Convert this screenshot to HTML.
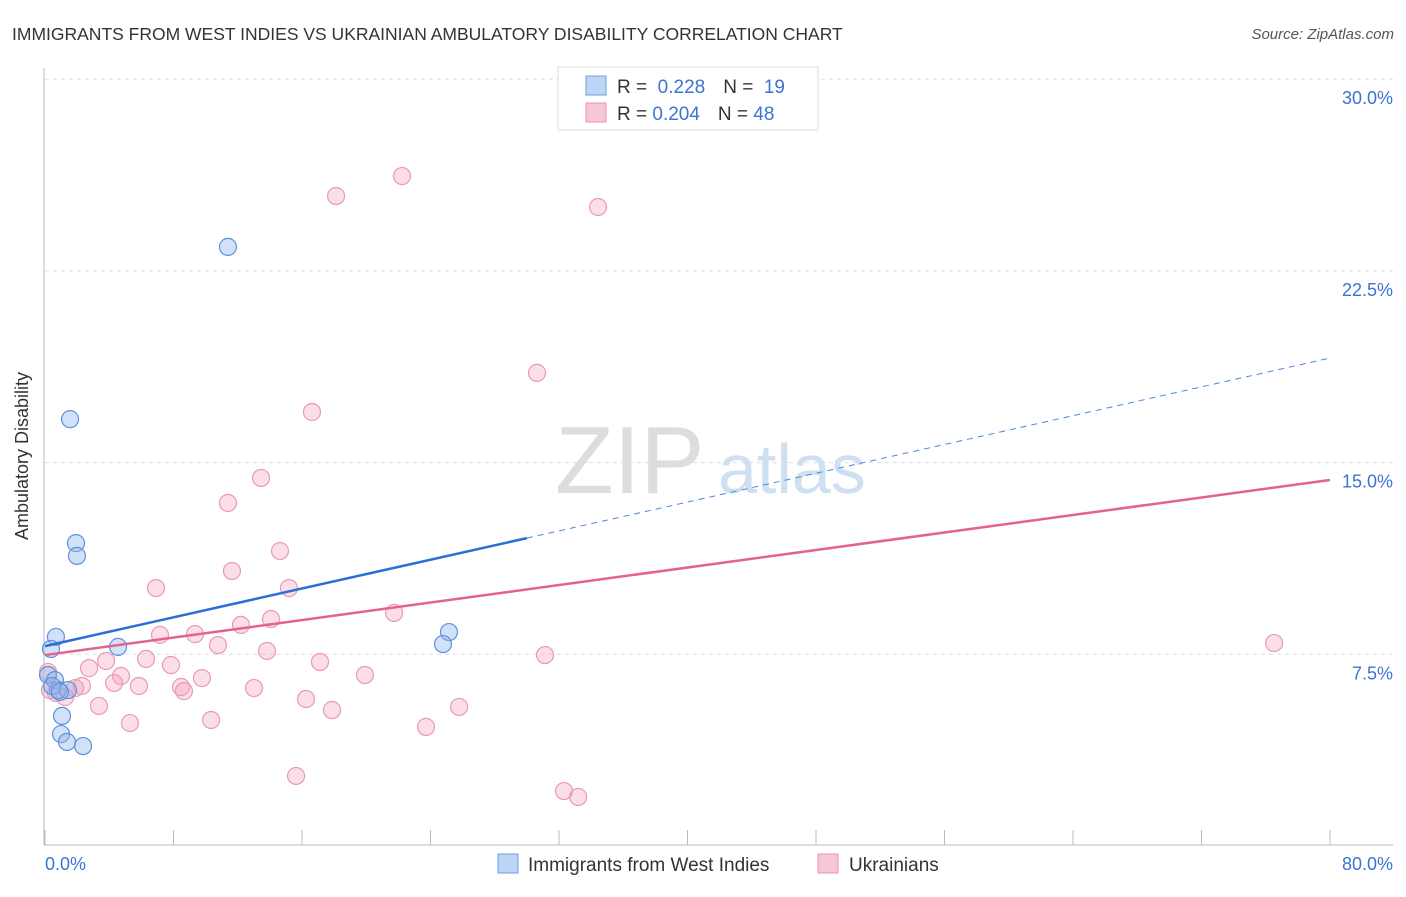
<!DOCTYPE html>
<html><head><meta charset="utf-8"><style>
body{margin:0;background:#fff;font-family:"Liberation Sans",sans-serif;}
svg text{font-family:"Liberation Sans",sans-serif;}
</style></head><body>
<svg id="c" width="1406" height="892" xmlns="http://www.w3.org/2000/svg">
<text x="12" y="40" font-size="17.5" fill="#333">IMMIGRANTS FROM WEST INDIES VS UKRAINIAN AMBULATORY DISABILITY CORRELATION CHART</text>
<text x="1394" y="39" font-size="15" fill="#555" font-style="italic" text-anchor="end">Source: ZipAtlas.com</text>
<text x="555" y="493" font-size="96" fill="#ddd" font-family="Liberation Serif">ZIP</text>
<text x="718" y="493" font-size="70" fill="#cfe0f3">atlas</text>
<g id="grid"></g>
<line x1="44" y1="68" x2="44" y2="845" stroke="#bbb"/>
<line x1="44" y1="845" x2="1393" y2="845" stroke="#bbb"/>
<text x="28" y="456" font-size="18" fill="#333" text-anchor="middle" transform="rotate(-90 28 456)">Ambulatory Disability</text>
<g id="marks"></g>
<g>
<rect x="558" y="67" width="260" height="63" fill="#fff" stroke="#ddd"/>
<rect x="586" y="76" width="20" height="19" fill="#bcd4f5" stroke="#6d9de0"/>
<rect x="586" y="103" width="20" height="19" fill="#f8c8d6" stroke="#e890ab"/>
<text x="617" y="93" font-size="19" fill="#333">R = <tspan fill="#3b74d2">&#160;0.228</tspan><tspan dx="18">N = </tspan><tspan fill="#3b74d2">&#160;19</tspan></text>
<text x="617" y="120" font-size="19" fill="#333">R = <tspan fill="#3b74d2">0.204</tspan><tspan dx="18">N = </tspan><tspan fill="#3b74d2">48</tspan></text>
</g>
<g>
<rect x="498" y="854" width="20" height="19" fill="#bcd4f5" stroke="#6d9de0"/>
<text x="528" y="871" font-size="19" fill="#333">Immigrants from West Indies</text>
<rect x="818" y="854" width="20" height="19" fill="#f8c8d6" stroke="#e890ab"/>
<text x="849" y="871" font-size="19" fill="#333">Ukrainians</text>
</g>
</svg>
<script>
const yTicks=[7.5,15,22.5,30];
const yTickLabels=["7.5%","15.0%","22.5%","30.0%"];
const xTickCount=10;
const xLabels=["0.0%","80.0%"];
const blueX=[11.39,1.56,1.93,1.99,0.68,0.37,4.55,25.15,24.78,0.19,0.62,0.81,1.43,0.44,1.06,1.00,1.37,2.37,0.93];
const blueY=[23.44,16.70,11.85,11.35,8.18,7.71,7.79,8.37,7.90,6.69,6.49,6.10,6.10,6.26,5.09,4.38,4.07,3.91,6.03];
const pinkX=[22.23,18.12,34.43,30.63,16.62,13.45,11.39,14.63,11.64,6.91,15.19,21.73,14.07,12.20,7.16,9.34,10.77,13.82,31.13,76.52,6.29,3.80,17.12,7.84,2.74,4.73,19.92,9.77,4.30,2.30,5.85,8.47,8.65,13.01,1.87,0.31,0.68,1.25,16.25,3.36,25.78,17.87,10.34,5.29,23.72,15.63,32.31,33.19,0.19];
const pinkY=[26.21,25.43,25.00,18.51,16.98,14.40,13.42,11.54,10.76,10.09,10.09,9.12,8.88,8.65,8.26,8.29,7.86,7.63,7.47,7.94,7.32,7.24,7.20,7.08,6.96,6.65,6.69,6.57,6.38,6.26,6.26,6.22,6.06,6.18,6.18,6.10,5.99,5.83,5.75,5.48,5.44,5.32,4.93,4.81,4.66,2.74,2.15,1.92,6.81];
const blueTrend=[7.82,19.09]; const blueSolidEnd=30;
const pinkTrend=[7.47,14.32];
const NS="http://www.w3.org/2000/svg";
const sx=v=>45+v/80*1285, sy=v=>846-v/7.5*191.7;
const grid=document.getElementById('grid'), marks=document.getElementById('marks'), svg=document.getElementById('c');
function mk(p,tag,a){const e=document.createElementNS(NS,tag);for(const k in a)e.setAttribute(k,a[k]);p.appendChild(e);return e;}
yTicks.forEach((t,i)=>{
 const l=mk(grid,'line',{x1:45,x2:1393,y1:sy(t),y2:sy(t),stroke:'#ddd','stroke-dasharray':'4,4'});
 
 
 const tx=mk(grid,'text',{x:1393,y:sy(t)+25,'font-size':18,fill:'#3b74d2','text-anchor':'end'});
 tx.textContent=yTickLabels[i];
 
 
});
for(let i=0;i<=xTickCount;i++){
 const x=sx(i*80/xTickCount);
 const l=mk(grid,'line',{x1:x,x2:x,y1:830,y2:845,stroke:'#bbb'});
 
 
}
const xl0=mk(grid,'text',{x:45,y:870,'font-size':18,fill:'#3b74d2'});xl0.textContent=xLabels[0];


const xl1=mk(grid,'text',{x:1393,y:870,'font-size':18,fill:'#3b74d2','text-anchor':'end'});xl1.textContent=xLabels[1];


pinkX.forEach((x,i)=>{const c=mk(marks,'circle',{cx:sx(x),cy:sy(pinkY[i]),r:8.5,fill:'rgba(244,160,188,0.35)',stroke:'#e99ab4','stroke-width':1.2});
 
 });
blueX.forEach((x,i)=>{const c=mk(marks,'circle',{cx:sx(x),cy:sy(blueY[i]),r:8.5,fill:'rgba(140,180,235,0.4)',stroke:'#5f91dc','stroke-width':1.2});
 
 });
const by=x=>blueTrend[0]+(blueTrend[1]-blueTrend[0])*x/80;
const b1=mk(marks,'line',{x1:sx(0),y1:sy(by(0)),x2:sx(blueSolidEnd),y2:sy(by(blueSolidEnd)),stroke:'#2a6fd6','stroke-width':2.5});


const b2=mk(marks,'line',{x1:sx(blueSolidEnd),y1:sy(by(blueSolidEnd)),x2:sx(80),y2:sy(by(80)),stroke:'#4a86e0','stroke-width':1,'stroke-dasharray':'6,5'});


const p1=mk(marks,'line',{x1:sx(0),y1:sy(pinkTrend[0]),x2:sx(80),y2:sy(pinkTrend[1]),stroke:'#e5628e','stroke-width':2.5});


</script>
</body></html>
